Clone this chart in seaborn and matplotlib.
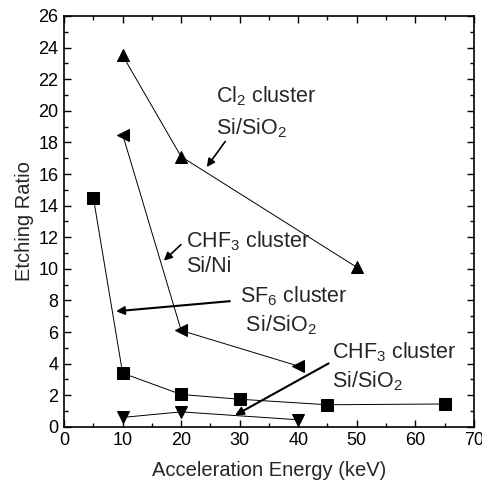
import seaborn as sns
import numpy as np
import matplotlib.pyplot as plt
import pandas as pd

# values
cl2_energy = [10, 20, 50]
cl2_ratio = [23.5, 17.1, 10.1]

chf3_ni_energy = [10, 20, 40]
chf3_ni_ratio = [18.5, 6.1, 3.85]

sf6_energy = [5, 10, 20, 30, 45, 65]
sf6_ratio = [14.5, 3.4, 2.05, 1.75, 1.4, 1.45]

chf3_sio2_energy = [10, 20, 40]
chf3_sio2_ratio = [0.6, 0.95, 0.45]

series = [
    ("Cl2", cl2_energy, cl2_ratio, "^"),
    ("CHF3 Si/Ni", chf3_ni_energy, chf3_ni_ratio, "<"),
    ("SF6", sf6_energy, sf6_ratio, "s"),
    ("CHF3 Si/SiO2", chf3_sio2_energy, chf3_sio2_ratio, "v"),
]

sns.set_theme(style="ticks")
plt.rcParams['font.family'] = ['Liberation Sans', 'DejaVu Sans']
plt.rcParams['mathtext.fontset'] = 'custom'
plt.rcParams['mathtext.rm'] = 'Liberation Sans'

fig = plt.figure(figsize=(4.82, 4.84), dpi=100)
ax = fig.add_axes([0.133, 0.118, 0.85, 0.849])

for name, x, y, m in series:
    df = pd.DataFrame({'Energy': x, 'Ratio': y})
    sns.lineplot(data=df, x='Energy', y='Ratio', ax=ax, color='black', linewidth=0.7,
                 marker=m, markersize=9, markeredgecolor='black', markerfacecolor='black')

ax.set_xlim(0, 70)
ax.set_ylim(0, 26)
ax.set_xticks(np.arange(0, 71, 10))
ax.set_yticks(np.arange(0, 27, 2))
ax.set_xticks(np.arange(0, 71, 5), minor=True)
ax.set_yticks(np.arange(0, 27, 1), minor=True)
ax.tick_params(which='both', direction='in', top=True, right=True, labelsize=13, width=1, colors='black', pad=4)
ax.tick_params(which='major', length=5)
ax.tick_params(which='minor', length=3)
for s in ax.spines.values():
    s.set_linewidth(1.2)
    s.set_color('black')
ax.set_xlabel('Acceleration Energy (keV)', fontsize=14.5, labelpad=8)
ax.set_ylabel('Etching Ratio', fontsize=14.5, labelpad=3)

tsize = 15.5
ax.text(26, 19.9, 'Cl$_2$ cluster\nSi/SiO$_2$', fontsize=tsize, va='center', linespacing=1.5)
ax.annotate('', xy=(24.1, 16.3), xytext=(27.8, 18.2),
            arrowprops=dict(arrowstyle='-|>', color='black', lw=1.2, mutation_scale=12))

ax.text(20.8, 11.0, 'CHF$_3$ cluster\nSi/Ni', fontsize=tsize, va='center', linespacing=1.2)
ax.annotate('', xy=(16.7, 10.4), xytext=(20.3, 11.65),
            arrowprops=dict(arrowstyle='-|>', color='black', lw=1.2, mutation_scale=12))

ax.text(30, 7.35, 'SF$_6$ cluster\n Si/SiO$_2$', fontsize=tsize, va='center', linespacing=1.3)
ax.annotate('', xy=(8.4, 7.3), xytext=(28.8, 7.97),
            arrowprops=dict(arrowstyle='-|>', color='black', lw=1.5, mutation_scale=12))

ax.text(45.8, 3.8, 'CHF$_3$ cluster\nSi/SiO$_2$', fontsize=tsize, va='center', linespacing=1.3)
ax.annotate('', xy=(28.8, 0.65), xytext=(45.6, 4.1),
            arrowprops=dict(arrowstyle='-|>', color='black', lw=1.5, mutation_scale=12))

fig.savefig('out.png', dpi=100)
